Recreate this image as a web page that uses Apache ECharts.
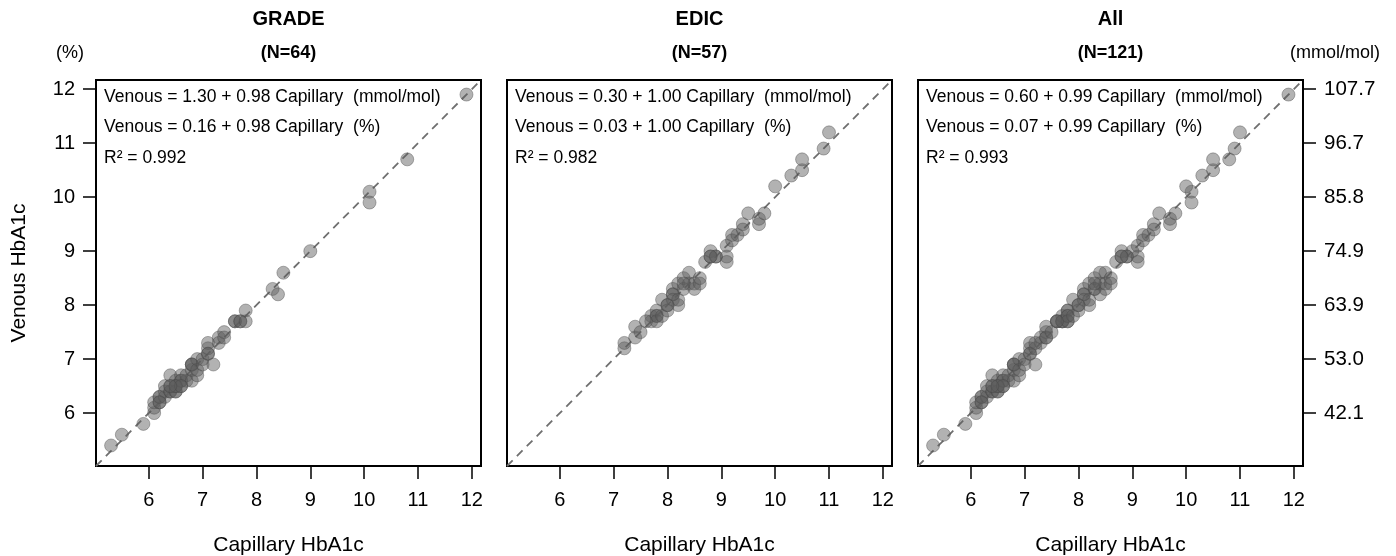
<!DOCTYPE html>
<html>
<head>
<meta charset="utf-8">
<script src="https://cdn.jsdelivr.net/npm/echarts@6/dist/echarts.min.js"></script>
<style>
  html, body { margin: 0; padding: 0; background: #fff; }
  #chart { width: 1396px; height: 556px; }
</style>
</head>
<body>
<div id="chart"></div>
<script>
// HbA1c (%) pairs: [capillary, venous]
const gradePoints = [
  [5.3,5.4],[5.5,5.6],[5.9,5.8],[6.1,6.0],[6.1,6.1],[6.1,6.2],[6.2,6.2],[6.2,6.3],[6.2,6.3],[6.3,6.3],
  [6.3,6.5],[6.3,6.4],[6.4,6.4],[6.4,6.4],[6.4,6.5],[6.4,6.7],[6.5,6.4],[6.5,6.5],[6.5,6.5],[6.5,6.6],
  [6.5,6.4],[6.6,6.5],[6.6,6.6],[6.6,6.7],[6.6,6.6],[6.7,6.6],[6.7,6.7],[6.8,6.6],[6.8,6.8],[6.8,6.9],
  [6.8,6.9],[6.8,6.9],[6.9,6.7],[6.9,7.0],[6.9,6.8],[7.0,7.0],[7.0,6.9],[7.1,7.1],[7.1,7.2],[7.1,7.3],
  [7.1,7.1],[7.2,6.9],[7.3,7.4],[7.3,7.3],[7.4,7.5],[7.4,7.4],[7.6,7.7],[7.6,7.7],[7.7,7.7],[7.7,7.7],
  [7.8,7.7],[7.8,7.9],[8.3,8.3],[8.4,8.2],[8.5,8.6],[9.0,9.0],[10.1,10.1],[10.1,9.9],[10.8,10.7],[11.9,11.9],
  [6.2,6.2],[6.5,6.5],[6.6,6.5],[6.4,6.5]
];
const edicPoints = [
  [7.2,7.2],[7.2,7.3],[7.4,7.4],[7.4,7.6],[7.5,7.5],[7.7,7.8],[7.7,7.7],[7.8,7.9],[7.8,7.8],[7.8,7.8],
  [7.8,7.7],[7.9,8.1],[7.9,7.8],[8.0,7.9],[8.0,8.0],[8.1,8.3],[8.1,8.2],[8.1,8.2],[8.1,8.1],[8.2,8.0],
  [8.2,8.1],[8.2,8.4],[8.3,8.5],[8.3,8.3],[8.4,8.6],[8.4,8.4],[8.5,8.3],[8.5,8.4],[8.6,8.5],[8.6,8.4],
  [8.7,8.8],[8.8,9.0],[8.8,8.9],[8.9,8.9],[8.9,8.9],[8.8,8.9],[9.1,8.9],[9.1,8.8],[9.1,9.1],[9.2,9.3],
  [9.2,9.2],[9.3,9.3],[9.4,9.5],[9.4,9.4],[9.5,9.7],[9.7,9.5],[9.7,9.6],[9.8,9.7],[10.0,10.2],[10.3,10.4],
  [10.5,10.5],[10.5,10.7],[10.9,10.9],[11.0,11.2],[8.0,8.0],[7.6,7.7],[8.3,8.4]
];
const allPoints = gradePoints.concat(edicPoints);

const panelTitles = ['GRADE', 'EDIC', 'All'];
const panelN = ['(N=64)', '(N=57)', '(N=121)'];
const eqMmol = [
  'Venous = 1.30 + 0.98 Capillary  (mmol/mol)',
  'Venous = 0.30 + 1.00 Capillary  (mmol/mol)',
  'Venous = 0.60 + 0.99 Capillary  (mmol/mol)'
];
const eqPct = [
  'Venous = 0.16 + 0.98 Capillary  (%)',
  'Venous = 0.03 + 1.00 Capillary  (%)',
  'Venous = 0.07 + 0.99 Capillary  (%)'
];
const r2Values = ['0.992', '0.982', '0.993'];

const tickValues = [6, 7, 8, 9, 10, 11, 12];
const mmolLabels = ['42.1', '53.0', '63.9', '74.9', '85.8', '96.7', '107.7'];
const axisMin = 5.02, axisMax = 12.17;

const FONT = 'Liberation Sans, Arial, sans-serif';
const gridLefts = [96, 507, 918];
const gridTop = 80, gridW = 385, gridH = 386;
const panelData = [gradePoints, edicPoints, allPoints];

let chart = echarts.init(document.getElementById('chart'));

let grids = [], xAxes = [], yAxes = [], series = [], graphics = [];

gridLefts.forEach((left, i) => {
  grids.push({
    left: left, top: gridTop, width: gridW, height: gridH,
    outerBoundsMode: 'none', containLabel: false,
    show: true, borderColor: '#000', borderWidth: 2, backgroundColor: '#fff'
  });
  xAxes.push({
    type: 'value', gridIndex: i, min: axisMin, max: axisMax,
    splitLine: { show: false },
    axisLine: { show: false },
    axisTick: { show: true, length: 13, lineStyle: { color: '#000', width: 1.5 }, customValues: tickValues },
    axisLabel: { show: true, margin: 24, fontSize: 20, color: '#000', fontFamily: FONT, customValues: tickValues },
    name: 'Capillary HbA1c', nameLocation: 'middle', nameGap: 69,
    nameTextStyle: { fontSize: 21, color: '#000', fontFamily: FONT }
  });
  yAxes.push({
    type: 'value', gridIndex: i, min: axisMin, max: axisMax,
    splitLine: { show: false },
    axisLine: { show: false },
    axisTick: { show: i === 0, length: 13, lineStyle: { color: '#000', width: 1.5 }, customValues: tickValues },
    axisLabel: { show: i === 0, margin: 21, fontSize: 20, color: '#000', fontFamily: FONT, customValues: tickValues },
    name: i === 0 ? 'Venous HbA1c' : '', nameLocation: 'middle', nameGap: 66,
    nameTextStyle: { fontSize: 21, color: '#000', fontFamily: FONT }
  });

  // identity line
  series.push({
    type: 'line', xAxisIndex: i, yAxisIndex: i,
    data: [[axisMin, axisMin], [axisMax, axisMax]],
    symbol: 'none', silent: true, z: 1,
    lineStyle: { color: '#6f6f6f', width: 1.8, type: [8, 6] }
  });
  series.push({
    type: 'scatter', xAxisIndex: i, yAxisIndex: i,
    data: panelData[i], symbolSize: 13, z: 2,
    itemStyle: { color: 'rgba(95,95,95,0.48)', borderColor: 'rgba(70,70,70,0.4)', borderWidth: 1, opacity: 1 }
  });

  const cx = left + gridW / 2;
  graphics.push(
    { type: 'text', x: cx, y: 19, style: { text: panelTitles[i], align: 'center', verticalAlign: 'middle', font: 'bold 20px ' + FONT, fill: '#000' } },
    { type: 'text', x: cx, y: 53, style: { text: panelN[i], align: 'center', verticalAlign: 'middle', font: 'bold 18px ' + FONT, fill: '#000' } },
    { type: 'text', x: left + 8, y: 97, style: { text: eqMmol[i], align: 'left', verticalAlign: 'middle', font: '17.5px ' + FONT, fill: '#000' } },
    { type: 'text', x: left + 8, y: 127, style: { text: eqPct[i], align: 'left', verticalAlign: 'middle', font: '17.5px ' + FONT, fill: '#000' } },
    { type: 'text', x: left + 8, y: 158, style: { text: 'R\u00B2 = ' + r2Values[i], align: 'left', verticalAlign: 'middle', font: '17.5px ' + FONT, fill: '#000' } }
  );
});

// right-hand mmol/mol axis on the last panel
yAxes.push({
  type: 'value', gridIndex: 2, position: 'right', min: axisMin, max: axisMax,
  splitLine: { show: false },
  axisLine: { show: false },
  axisTick: { show: true, length: 13, lineStyle: { color: '#000', width: 1.5 }, customValues: tickValues },
  axisLabel: {
    show: true, margin: 21, fontSize: 20.5, color: '#000', fontFamily: FONT, customValues: tickValues,
    formatter: v => mmolLabels[tickValues.indexOf(Math.round(v))]
  }
});

graphics.push(
  { type: 'text', x: 70, y: 53, style: { text: '(%)', align: 'center', verticalAlign: 'middle', font: '18px ' + FONT, fill: '#000' } },
  { type: 'text', x: 1335, y: 53, style: { text: '(mmol/mol)', align: 'center', verticalAlign: 'middle', font: '18px ' + FONT, fill: '#000' } }
);

let option = {
  backgroundColor: '#fff',
  animation: false,
  grid: grids,
  xAxis: xAxes,
  yAxis: yAxes,
  series: series,
  graphic: graphics
};
chart.setOption(option);
</script>
</body>
</html>
